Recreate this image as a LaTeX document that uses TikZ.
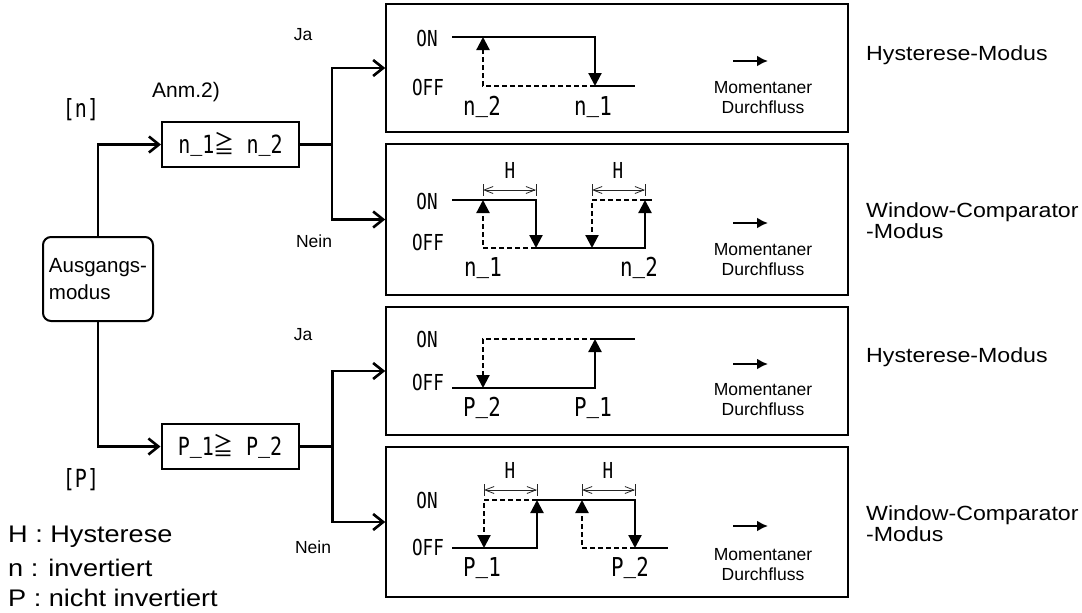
\documentclass[tikz,border=0pt]{standalone}
\usepackage{fontspec}
\setmainfont{Liberation Sans}
\newfontfamily\widefont[FakeStretch=1.13]{Liberation Sans}
\newfontfamily\gmono[FakeStretch=0.8]{DejaVu Sans Mono}
\newfontfamily\cjkfont[FakeStretch=0.8]{Noto Sans CJK JP}
\newcommand\us{\raisebox{0.14em}{\_}}
\usetikzlibrary{arrows.meta}
\tikzset{
  lbl/.style={inner sep=0pt, font=\fontsize{17.5}{20}\selectfont},
  anm/.style={inner sep=0pt, font=\fontsize{21}{22}\selectfont},
  mono/.style={inner sep=0pt, font=\gmono\fontsize{26}{26}\selectfont},
  onoff/.style={inner sep=0pt, font=\gmono\fontsize{22}{22}\selectfont},
  brk/.style={inner sep=0pt, font=\gmono\fontsize{25}{25}\selectfont},
  mode/.style={inner sep=0pt, anchor=west, align=left, font=\widefont\fontsize{20.5}{21.5}\selectfont},
  legend/.style={inner sep=0pt, anchor=west, font=\widefont\fontsize{24}{24}\selectfont},
  panel/.style={draw, line width=1.6pt, minimum width=462pt, inner sep=0pt},
  cbox/.style={draw, line width=2pt, minimum width=137pt, minimum height=45pt, inner sep=0pt,
               font=\gmono\fontsize{25}{25}\selectfont},
  rbox/.style={draw, line width=2pt, rounded corners=8pt, minimum width=110pt, minimum height=84pt,
               inner xsep=5pt, align=left, font=\fontsize{20.5}{27}\selectfont},
  line/.style={line width=2.6pt},
  conn/.style={line width=2.6pt, -{Straight Barb[length=10pt,width=16pt]}},
  wave/.style={line width=2.2pt},
  dsh/.style={line width=2.2pt, dash pattern=on 5pt off 3pt},
  wtip/.style={-{Triangle[length=13pt,width=13pt]}},
  dimar/.style={line width=0.8pt, black!85, {Straight Barb[length=9pt,width=7pt]}-{Straight Barb[length=9pt,width=7pt]}},
  tick/.style={line width=0.8pt, black!85},
  flow/.style={line width=2.4pt, -{Latex[length=11pt,width=11pt]}}
}
\begin{document}
\begin{tikzpicture}[x=1pt,y=-1pt]
\useasboundingbox (0,0) rectangle (1082,613);

% main boxes
\node[rbox] (aus) at (98,279) {Ausgangs-\\modus};
\node[cbox] (nbox) at (230.5,144.5) {n\us 1{\cjkfont ≧}\ n\us 2};
\node[cbox] (pbox) at (230,446.5) {P\us 1{\cjkfont ≧}\ P\us 2};

\node[panel, minimum height=128pt] (p1) at (617,68) {};
\node[panel, minimum height=151pt] (p2) at (617,219.5) {};
\node[panel, minimum height=128pt] (p3) at (617,371) {};
\node[panel, minimum height=150pt] (p4) at (617,522) {};

% connectors
\draw[conn] (aus.north) |- (nbox.west);
\draw[conn] (aus.south) |- (pbox.west);
\draw[line] (nbox.east) -- ++(32,0) coordinate (ns);
\draw[conn] (ns) |- (p1.west);
\draw[conn] (ns) |- (p2.west);
\draw[line] (pbox.east) -- ++(33,0) coordinate (ps);
\draw[conn] (ps) |- (p3.west);
\draw[conn] (ps) |- (p4.west);

% labels left
\node[anm] (anm) at (186,92) {Anm.2)};
\node[brk] (bn) at (81,110) {[n]};
\node[brk] (bp) at (81,480) {[P]};
\node[lbl] (ja1) at (303,35) {Ja};
\node[lbl] (nein1) at (314,241) {Nein};
\node[lbl] (ja2) at (303,335) {Ja};
\node[lbl] (nein2) at (313,547) {Nein};

\node[legend] (lg1) at (8,537) {H : Hysterese};
\node[legend] (lg2) at (8,568) {n : invertiert};
\node[legend] (lg3) at (8,598) {P : nicht invertiert};

% ---- panel 1 : hysteresis, inverted
\node[onoff] (a1on) at (427,38) {ON};
\node[onoff] (a1off) at (428,87) {OFF};
\draw[wave,wtip] (452,37) -- (595,37) -- (595,86);
\draw[wave] (595,86) -- (635,86);
\draw[dsh,wtip] (595,86) -- (483,86) -- (483,37);
\node[mono] (a1x) at (482,107) {n\us 2};
\node[mono] (a1y) at (593,107) {n\us 1};
\draw[flow] (733,61) -- (768,61);
\node[lbl, align=center] (a1m) at (763,97.5) {Momentaner\\Durchfluss};
\node[mode] (a1t) at (866,55) {Hysterese-Modus};

% ---- panel 2 : window comparator, inverted
\node[onoff] (a2on) at (427,201) {ON};
\node[onoff] (a2off) at (428,242) {OFF};
\draw[wave,wtip] (452,200) -- (536,200) -- (536,248);
\draw[wave,wtip] (536,248) -- (645,248) -- (645,200);
\draw[wave] (645,200) -- (652,200);
\draw[dsh,wtip] (536,248) -- (483,248) -- (483,200);
\draw[dsh,wtip] (645,200) -- (592,200) -- (592,248);
\draw[dimar] (483,190) -- (536,190);
\draw[tick] (483,184) -- (483,196) (536,184) -- (536,196);
\draw[dimar] (592,190) -- (645,190);
\draw[tick] (592,184) -- (592,196) (645,184) -- (645,196);
\node[onoff] (a2h1) at (510,170) {H};
\node[onoff] (a2h2) at (618,170) {H};
\node[mono] (a2x) at (483,268) {n\us 1};
\node[mono] (a2y) at (639,268) {n\us 2};
\draw[flow] (733,223) -- (768,223);
\node[lbl, align=center] (a2m) at (763,260) {Momentaner\\Durchfluss};
\node[mode] (a2t) at (866,220.5) {Window-Comparator\\-Modus};

% ---- panel 3 : hysteresis, non-inverted
\node[onoff] (a3on) at (427,339) {ON};
\node[onoff] (a3off) at (428,382) {OFF};
\draw[wave,wtip] (452,388) -- (595,388) -- (595,339);
\draw[wave] (595,339) -- (635,339);
\draw[dsh,wtip] (595,339) -- (483,339) -- (483,388);
\node[mono] (a3x) at (482,408) {P\us 2};
\node[mono] (a3y) at (593,408) {P\us 1};
\draw[flow] (733,364) -- (768,364);
\node[lbl, align=center] (a3m) at (763,399.5) {Momentaner\\Durchfluss};
\node[mode] (a3t) at (866,357) {Hysterese-Modus};

% ---- panel 4 : window comparator, non-inverted
\node[onoff] (a4on) at (427,500) {ON};
\node[onoff] (a4off) at (428,547) {OFF};
\draw[wave,wtip] (452,548) -- (537,548) -- (537,500);
\draw[wave,wtip] (537,500) -- (635,500) -- (635,548);
\draw[wave] (635,548) -- (668,548);
\draw[dsh,wtip] (537,500) -- (484,500) -- (484,548);
\draw[dsh,wtip] (635,548) -- (582,548) -- (582,500);
\draw[dimar] (484,490) -- (537,490);
\draw[tick] (484,484) -- (484,496) (537,484) -- (537,496);
\draw[dimar] (582,490) -- (635,490);
\draw[tick] (582,484) -- (582,496) (635,484) -- (635,496);
\node[onoff] (a4h1) at (510,470) {H};
\node[onoff] (a4h2) at (608,470) {H};
\node[mono] (a4x) at (482,568) {P\us 1};
\node[mono] (a4y) at (630,568) {P\us 2};
\draw[flow] (733,526) -- (768,526);
\node[lbl, align=center] (a4m) at (763,565) {Momentaner\\Durchfluss};
\node[mode] (a4t) at (866,523.5) {Window-Comparator\\-Modus};
\end{tikzpicture}
\end{document}
